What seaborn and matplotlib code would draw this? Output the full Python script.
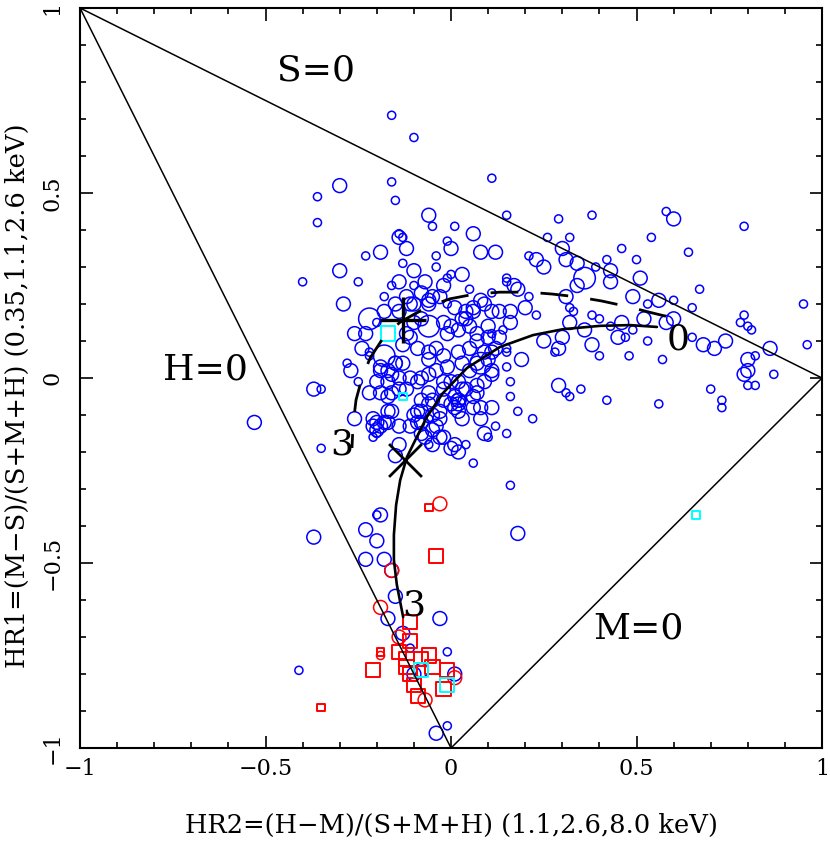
import numpy as np
import pandas as pd
import matplotlib
matplotlib.use("Agg")
import matplotlib.pyplot as plt
from matplotlib.ticker import MultipleLocator
import seaborn as sns

sns.set_style("ticks")
plt.rcParams['font.family'] = ['DejaVu Serif']
for key in ['text.color', 'axes.labelcolor', 'xtick.color', 'ytick.color',
            'axes.edgecolor']:
    plt.rcParams[key] = 'black'

# blue circles: HR2, HR1 and a count class (1 faint, 2 medium, 3 bright)
blue_x = [-0.16, -0.10, -0.30, -0.16, -0.36, -0.15, -0.36, -0.06, 0.11, 0.15,
          -0.05, 0.01, -0.14, -0.14, -0.13, -0.12, -0.01, 0.00, 0.06, 0.08,
          0.12, -0.23, -0.19, -0.04, 0.21, 0.23, -0.30, -0.13, -0.40, -0.25,
          -0.14, -0.16, -0.18, -0.29, -0.22, -0.20, -0.26, -0.23, -0.24, -0.22,
          -0.22, -0.28, -0.27, -0.18, -0.15, -0.19, -0.16, -0.37, -0.35, -0.25,
          -0.22, -0.19, -0.17, -0.02, 0.03, -0.01, 0.00, 0.05, 0.11, 0.08,
          0.01, -0.01, -0.06, -0.10, -0.11, -0.10, -0.08, -0.06, 0.13, 0.16,
          0.14, 0.11, 0.20, 0.23, 0.21, 0.15, 0.15, 0.17, 0.18, 0.25,
          0.29, 0.28, 0.15, 0.15, 0.19, 0.29, 0.16, 0.31, 0.05, 0.07,
          0.10, 0.03, 0.04, 0.06, 0.11, 0.10, 0.08, 0.11, 0.11, 0.09,
          0.07, 0.07, 0.04, 0.06, 0.01, 0.02, -0.02, 0.00, -0.53, -0.35,
          -0.26, -0.21, -0.20, -0.20, -0.21, -0.17, -0.16, -0.18, -0.14, -0.14,
          -0.15, -0.10, -0.08, -0.06, -0.11, -0.08, -0.05, -0.03, -0.04, -0.05,
          -0.03, -0.07, -0.05, -0.06, -0.03, 0.01, 0.02, 0.02, 0.03, 0.01,
          0.02, 0.04, 0.06, 0.08, 0.11, 0.08, 0.09, 0.10, 0.12, 0.15,
          0.18, 0.22, 0.06, 0.16, 0.18, -0.37, -0.23, -0.20, -0.20, -0.19,
          -0.23, -0.18, -0.16, -0.15, -0.17, -0.13, -0.11, -0.03, -0.01, 0.01,
          -0.41, -0.01, -0.04, -0.10, -0.08, 0.26, 0.29, 0.32, 0.30, 0.31,
          0.34, 0.25, 0.38, 0.42, 0.46, 0.43, 0.36, 0.34, 0.39, 0.43,
          0.50, 0.51, 0.49, 0.53, 0.56, 0.60, 0.52, 0.58, 0.60, 0.58,
          0.60, 0.54, 0.64, 0.67, 0.65, 0.79, 0.95, 0.79, 0.78, 0.80,
          0.81, 0.86, 0.96, 0.68, 0.71, 0.74, 0.65, 0.80, 0.80, 0.79,
          0.82, 0.80, 0.82, 0.87, 0.70, 0.73, 0.73, 0.56, 0.42, 0.48,
          0.57, 0.40, 0.35, 0.32, 0.38, 0.36, 0.32, 0.38, 0.40, 0.43,
          0.46, 0.45, 0.47, 0.49, 0.53, 0.30, 0.31, 0.32, 0.33, -0.19,
          -0.17, -0.15, -0.13, -0.14, -0.11, -0.17, -0.20, -0.16, -0.14, -0.12,
          -0.09, -0.08, -0.06, -0.04, -0.01, -0.02, 0.02, 0.03, 0.02, 0.03,
          0.00, -0.02, -0.05, -0.06, -0.08, -0.09, -0.09, -0.06, -0.08, -0.02,
          0.00, -0.17, -0.19, -0.21, -0.20, 0.16, 0.15, -0.09, -0.06, -0.04,
          -0.06, -0.02, 0.02, 0.03, 0.05, 0.07, 0.09, 0.12, 0.13, 0.10,
          0.07, 0.05, -0.05, -0.06, -0.03, -0.10, -0.08, -0.12, -0.11, -0.13,
          -0.02, 0.00, -0.01, 0.02, 0.04, 0.06, 0.09, 0.11, 0.16, -0.10,
          -0.07, -0.04, -0.12, -0.15, -0.18, -0.14]
blue_y = [0.71, 0.65, 0.52, 0.53, 0.49, 0.48, 0.42, 0.44, 0.54, 0.44,
          0.41, 0.41, 0.38, 0.39, 0.38, 0.35, 0.37, 0.35, 0.39, 0.34,
          0.34, 0.33, 0.34, 0.33, 0.33, 0.32, 0.29, 0.31, 0.26, 0.26,
          0.26, 0.25, 0.22, 0.20, 0.16, 0.15, 0.12, 0.12, 0.08, 0.07,
          0.06, 0.04, 0.02, 0.06, 0.04, 0.02, 0.01, -0.03, -0.03, -0.01,
          -0.04, -0.04, -0.05, 0.25, 0.28, 0.27, 0.28, 0.24, 0.23, 0.21,
          0.19, 0.20, 0.21, 0.25, 0.20, 0.20, 0.23, 0.14, 0.18, 0.15,
          0.13, 0.12, 0.19, 0.17, 0.22, 0.27, 0.26, 0.25, 0.24, 0.10,
          0.08, 0.07, 0.07, 0.08, 0.05, -0.02, -0.05, -0.04, 0.14, 0.12,
          0.14, 0.16, 0.16, 0.18, 0.07, 0.05, 0.04, 0.02, 0.01, -0.01,
          -0.02, -0.04, -0.03, -0.05, -0.05, -0.06, -0.03, -0.01, -0.12, -0.19,
          -0.11, -0.13, -0.12, -0.14, -0.16, -0.09, -0.09, -0.12, -0.13, -0.18,
          -0.21, -0.10, -0.09, -0.07, -0.13, -0.12, -0.10, -0.11, -0.13, -0.14,
          -0.09, -0.16, -0.18, -0.18, -0.16, -0.08, -0.09, -0.07, -0.11, -0.18,
          -0.20, -0.18, -0.08, -0.08, -0.08, -0.11, -0.15, -0.16, -0.13, -0.15,
          -0.09, -0.11, -0.23, -0.29, -0.42, -0.43, -0.41, -0.44, -0.37, -0.37,
          -0.49, -0.49, -0.52, -0.59, -0.65, -0.69, -0.73, -0.65, -0.74, -0.80,
          -0.79, -0.94, -0.96, -0.80, -0.79, 0.38, 0.43, 0.38, 0.35, 0.32,
          0.31, 0.30, 0.44, 0.32, 0.35, 0.29, 0.27, 0.25, 0.30, 0.26,
          0.32, 0.27, 0.22, 0.20, 0.21, 0.21, 0.16, 0.15, 0.16, 0.45,
          0.43, 0.38, 0.34, 0.24, 0.19, 0.41, 0.20, 0.17, 0.15, 0.14,
          0.13, 0.08, 0.09, 0.09, 0.08, 0.10, 0.11, 0.05, 0.02, 0.01,
          0.06, -0.02, -0.02, 0.01, -0.03, -0.06, -0.08, -0.07, -0.06, 0.06,
          0.05, 0.06, -0.03, -0.05, 0.09, 0.13, 0.15, 0.17, 0.16, 0.14,
          0.15, 0.11, 0.11, 0.13, 0.10, 0.11, 0.22, 0.19, 0.18, 0.03,
          0.02, 0.04, 0.04, 0.00, 0.00, -0.01, -0.01, -0.04, -0.03, -0.03,
          -0.01, 0.00, 0.01, 0.02, 0.03, -0.01, -0.01, -0.03, -0.06, -0.06,
          -0.07, -0.06, -0.06, -0.04, -0.06, -0.09, -0.12, -0.11, -0.15, -0.16,
          -0.19, -0.12, -0.13, -0.11, -0.15, -0.01, 0.03, 0.08, 0.07, 0.08,
          0.05, 0.06, 0.07, 0.04, 0.02, 0.04, 0.07, 0.08, 0.11, 0.11,
          0.10, 0.08, 0.22, 0.20, 0.22, 0.15, 0.16, 0.12, 0.11, 0.09,
          0.15, 0.14, 0.12, 0.13, 0.18, 0.19, 0.20, 0.18, 0.18, 0.29,
          0.26, 0.30, 0.22, 0.20, 0.18, 0.18]
blue_cts = [1, 1, 2, 1, 1, 1, 1, 2, 1, 1,
            1, 1, 2, 1, 1, 2, 1, 2, 2, 2,
            2, 1, 2, 1, 1, 2, 2, 1, 1, 1,
            2, 1, 1, 2, 3, 1, 2, 2, 2, 1,
            1, 1, 2, 3, 2, 2, 2, 2, 1, 1,
            2, 2, 2, 2, 2, 1, 1, 1, 1, 2,
            2, 1, 2, 1, 2, 2, 2, 3, 2, 2,
            1, 1, 2, 1, 1, 1, 1, 2, 2, 2,
            2, 1, 1, 1, 2, 2, 1, 1, 2, 2,
            2, 2, 2, 2, 2, 2, 3, 2, 2, 2,
            2, 2, 2, 2, 2, 2, 2, 2, 2, 1,
            2, 2, 2, 2, 1, 2, 2, 2, 2, 2,
            2, 2, 2, 2, 2, 2, 2, 2, 2, 2,
            2, 2, 2, 1, 2, 2, 2, 2, 2, 2,
            2, 1, 2, 2, 2, 2, 2, 1, 1, 1,
            1, 1, 1, 1, 2, 2, 2, 2, 1, 2,
            2, 2, 2, 2, 2, 2, 1, 2, 1, 2,
            1, 1, 2, 2, 2, 1, 1, 1, 2, 2,
            2, 2, 1, 1, 1, 2, 3, 2, 1, 2,
            1, 2, 2, 1, 2, 1, 2, 2, 2, 1,
            2, 1, 1, 1, 1, 1, 1, 1, 1, 1,
            1, 2, 1, 2, 2, 2, 1, 2, 2, 2,
            1, 1, 1, 1, 1, 1, 1, 1, 1, 1,
            1, 1, 1, 1, 2, 2, 2, 1, 1, 1,
            2, 2, 1, 1, 1, 2, 2, 1, 1, 2,
            2, 2, 2, 2, 2, 2, 2, 2, 2, 2,
            2, 2, 2, 2, 2, 2, 2, 2, 2, 1,
            2, 2, 2, 2, 2, 2, 2, 1, 2, 2,
            2, 2, 2, 2, 1, 1, 1, 2, 2, 2,
            2, 2, 2, 2, 2, 2, 2, 2, 2, 2,
            2, 2, 2, 2, 2, 2, 2, 2, 2, 2,
            2, 2, 2, 2, 2, 2, 2, 2, 2, 2,
            2, 1, 2, 2, 2, 2]

# red circles
red_circ_x = [-0.03, -0.16, -0.19, -0.14, -0.07, -0.19, 0.01]
red_circ_y = [-0.34, -0.52, -0.62, -0.70, -0.87, -0.75, -0.81]
red_circ_cts = [2, 2, 2, 2, 2, 1, 2]

# red squares
red_sq_x = [-0.06, -0.04, -0.11, -0.11, -0.14, -0.06, -0.12, -0.05, -0.01,
            -0.11, -0.10, -0.02, -0.09, -0.21, -0.19, -0.35, -0.12, -0.08]
red_sq_y = [-0.35, -0.48, -0.66, -0.71, -0.74, -0.75, -0.78, -0.78, -0.79,
            -0.80, -0.83, -0.84, -0.86, -0.79, -0.74, -0.89, -0.76, -0.76]
red_sq_cts = [1, 2, 2, 2, 2, 2, 2, 2, 2, 2, 2, 2, 2, 2, 1, 1, 2, 2]

# cyan squares
cyan_x = [-0.17, -0.13, -0.08, -0.01, 0.66]
cyan_y = [0.12, -0.05, -0.79, -0.83, -0.37]
cyan_cts = [2, 1, 2, 2, 1]

# triangle boundaries S=0, M=0, H=0
tri_x = [-1, 1, 0, -1]
tri_y = [1, 0, -1, 1]

# model tracks
solid_x = [0.555, 0.482, 0.402, 0.302, 0.221, 0.132, 0.043, -0.022, -0.065,
           -0.092, -0.119, -0.137, -0.148, -0.154, -0.154, -0.146, -0.129]
solid_y = [0.138, 0.143, 0.141, 0.132, 0.116, 0.084, 0.027, -0.041, -0.105,
           -0.159, -0.214, -0.276, -0.343, -0.424, -0.492, -0.559, -0.646]
dash_x = [-0.267, -0.264, -0.256, -0.240, -0.218, -0.178, -0.137, -0.065, -0.003,
          0.065, 0.132, 0.208, 0.272, 0.342, 0.407, 0.480, 0.542, 0.612]
dash_y = [-0.189, -0.127, -0.059, 0.000, 0.054, 0.116, 0.151, 0.192, 0.214,
          0.227, 0.232, 0.232, 0.227, 0.219, 0.208, 0.192, 0.176, 0.159]
plus_x, plus_y = [-0.129], [0.157]
cross_x, cross_y = [-0.124], [-0.222]

circle_sizes = {1: 34, 2: 100, 3: 240}
square_sizes = {1: 30, 2: 105, 3: 200}

fig = plt.figure(figsize=(8.3, 8.42), dpi=100)
ax = fig.add_axes([0.0964, 0.1116, 0.894, 0.8789])

blue = pd.DataFrame({'hr2': blue_x, 'hr1': blue_y, 'cts': blue_cts})
sns.scatterplot(data=blue, x='hr2', y='hr1', size='cts', sizes=circle_sizes,
                marker='o', facecolor='none', edgecolor='blue', linewidth=1.1,
                legend=False, ax=ax)

rc = pd.DataFrame({'hr2': red_circ_x, 'hr1': red_circ_y, 'cts': red_circ_cts})
sns.scatterplot(data=rc, x='hr2', y='hr1', size='cts', sizes=circle_sizes,
                marker='o', facecolor='none', edgecolor='red', linewidth=1.1,
                legend=False, ax=ax)

rs = pd.DataFrame({'hr2': red_sq_x, 'hr1': red_sq_y, 'cts': red_sq_cts})
sns.scatterplot(data=rs, x='hr2', y='hr1', size='cts', sizes=square_sizes,
                marker='s', facecolor='none', edgecolor='red', linewidth=1.4,
                legend=False, ax=ax)

cy = pd.DataFrame({'hr2': cyan_x, 'hr1': cyan_y, 'cts': cyan_cts})
sns.scatterplot(data=cy, x='hr2', y='hr1', size='cts', sizes=square_sizes,
                marker='s', facecolor='none', edgecolor='cyan', linewidth=1.4,
                legend=False, ax=ax)

# boundaries and tracks
sns.lineplot(x=tri_x, y=tri_y, sort=False, estimator=None, color='black',
             lw=1.1, zorder=4, ax=ax)
sns.lineplot(x=solid_x, y=solid_y, sort=False, estimator=None, color='black',
             lw=1.9, zorder=5, ax=ax)
sns.lineplot(x=dash_x, y=dash_y, sort=False, estimator=None, color='black',
             lw=2.0, zorder=5, ax=ax)
ax.lines[-1].set_linestyle((5, (10, 8)))
sns.scatterplot(x=plus_x, y=plus_y, marker='+', s=1100, color='black',
                linewidth=2.4, legend=False, zorder=6, ax=ax)
sns.scatterplot(x=cross_x, y=cross_y, marker='x', s=560, color='black',
                linewidth=2.0, legend=False, zorder=6, ax=ax)

# annotations
ax.text(-0.365, 0.832, 'S=0', fontsize=26, ha='center', va='center')
ax.text(-0.663, 0.024, 'H=0', fontsize=26, ha='center', va='center')
ax.text(0.504, -0.676, 'M=0', fontsize=26, ha='center', va='center')
ax.text(0.612, 0.103, '0', fontsize=26, ha='center', va='center')
ax.text(-0.294, -0.181, '3', fontsize=26, ha='center', va='center')
ax.text(-0.100, -0.614, '3', fontsize=26, ha='center', va='center')

ax.set_xlim(-1, 1)
ax.set_ylim(-1, 1)
ticks = [-1, -0.5, 0, 0.5, 1]
tick_labels = ['\u22121', '\u22120.5', '0', '0.5', '1']
ax.set_xticks(ticks)
ax.set_xticklabels(tick_labels, fontsize=16)
ax.set_yticks(ticks)
ax.set_yticklabels(tick_labels, fontsize=16, rotation=90, va='center')
ax.xaxis.set_minor_locator(MultipleLocator(0.1))
ax.yaxis.set_minor_locator(MultipleLocator(0.1))
ax.tick_params(which='both', direction='in', top=True, right=True, width=1.2)
ax.tick_params(which='major', length=9)
ax.tick_params(which='minor', length=4.5)
ax.tick_params(axis='x', which='major', pad=7)
ax.tick_params(axis='y', which='major', pad=12)
for sp in ax.spines.values():
    sp.set_linewidth(1.5)

ax.set_xlabel('HR2=(H\u2212M)/(S+M+H) (1.1,2.6,8.0 keV)', fontsize=18.5)
ax.set_ylabel('HR1=(M\u2212S)/(S+M+H) (0.35,1.1,2.6 keV)', fontsize=18.5)
ax.xaxis.set_label_coords(0.5, -0.088)
ax.yaxis.set_label_coords(-0.068, 0.476)

fig.savefig('out.png', dpi=100)
